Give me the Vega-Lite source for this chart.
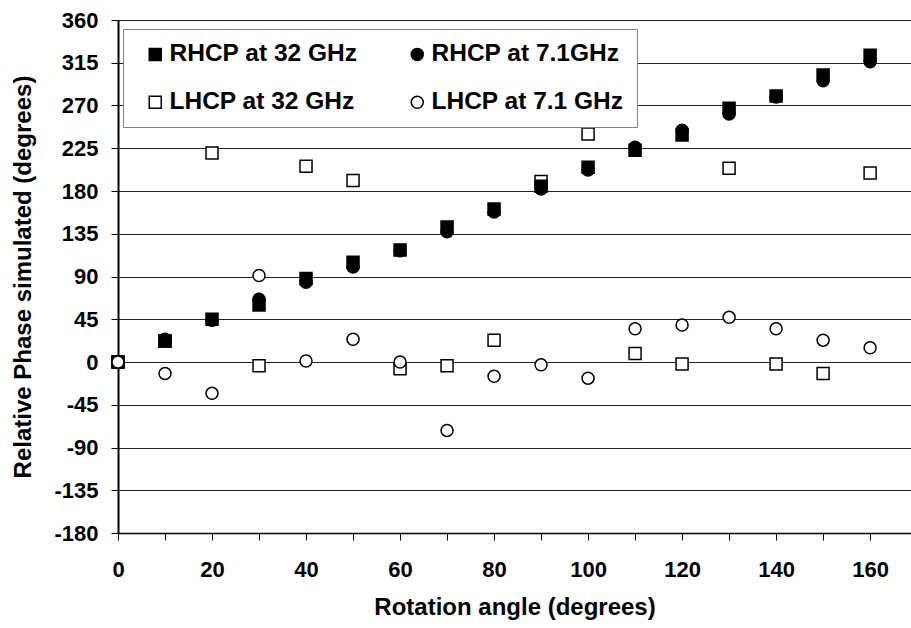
{
  "$schema": "https://vega.github.io/schema/vega-lite/v6.json",
  "autosize": {"type": "none"},
  "padding": {"left": 118, "top": 20, "right": 0, "bottom": 95},
  "width": 793,
  "height": 513,
  "background": "white",
  "config": {
    "view": {"stroke": null},
    "font": "Liberation Sans",
    "axis": {
      "labelFont": "Liberation Sans",
      "labelFontWeight": "bold",
      "labelColor": "#000",
      "titleFont": "Liberation Sans",
      "titleFontWeight": "bold",
      "titleColor": "#000",
      "domainColor": "#000",
      "tickColor": "#000",
      "labelFlush": false,
      "labelOverlap": false
    },
    "legend": {
      "labelFont": "Liberation Sans",
      "labelFontWeight": "bold",
      "labelColor": "#000"
    }
  },
  "data": {
    "values": [
      {"angle": 0, "phase": 0, "series": "LHCP at 32 GHz"},
      {"angle": 10, "phase": 22, "series": "LHCP at 32 GHz"},
      {"angle": 20, "phase": 220, "series": "LHCP at 32 GHz"},
      {"angle": 30, "phase": -4, "series": "LHCP at 32 GHz"},
      {"angle": 40, "phase": 206, "series": "LHCP at 32 GHz"},
      {"angle": 50, "phase": 191, "series": "LHCP at 32 GHz"},
      {"angle": 60, "phase": -7, "series": "LHCP at 32 GHz"},
      {"angle": 70, "phase": -4, "series": "LHCP at 32 GHz"},
      {"angle": 80, "phase": 23, "series": "LHCP at 32 GHz"},
      {"angle": 90, "phase": 190, "series": "LHCP at 32 GHz"},
      {"angle": 100, "phase": 240, "series": "LHCP at 32 GHz"},
      {"angle": 110, "phase": 9, "series": "LHCP at 32 GHz"},
      {"angle": 120, "phase": -2, "series": "LHCP at 32 GHz"},
      {"angle": 130, "phase": 204, "series": "LHCP at 32 GHz"},
      {"angle": 140, "phase": -2, "series": "LHCP at 32 GHz"},
      {"angle": 150, "phase": -12, "series": "LHCP at 32 GHz"},
      {"angle": 160, "phase": 199, "series": "LHCP at 32 GHz"},
      {"angle": 0, "phase": 0, "series": "RHCP at 32 GHz"},
      {"angle": 10, "phase": 22, "series": "RHCP at 32 GHz"},
      {"angle": 20, "phase": 45, "series": "RHCP at 32 GHz"},
      {"angle": 30, "phase": 60, "series": "RHCP at 32 GHz"},
      {"angle": 40, "phase": 88, "series": "RHCP at 32 GHz"},
      {"angle": 50, "phase": 105, "series": "RHCP at 32 GHz"},
      {"angle": 60, "phase": 118, "series": "RHCP at 32 GHz"},
      {"angle": 70, "phase": 142, "series": "RHCP at 32 GHz"},
      {"angle": 80, "phase": 161, "series": "RHCP at 32 GHz"},
      {"angle": 90, "phase": 185, "series": "RHCP at 32 GHz"},
      {"angle": 100, "phase": 205, "series": "RHCP at 32 GHz"},
      {"angle": 110, "phase": 223, "series": "RHCP at 32 GHz"},
      {"angle": 120, "phase": 239, "series": "RHCP at 32 GHz"},
      {"angle": 130, "phase": 267, "series": "RHCP at 32 GHz"},
      {"angle": 140, "phase": 280, "series": "RHCP at 32 GHz"},
      {"angle": 150, "phase": 302, "series": "RHCP at 32 GHz"},
      {"angle": 160, "phase": 323, "series": "RHCP at 32 GHz"},
      {"angle": 0, "phase": 0, "series": "RHCP at 7.1GHz"},
      {"angle": 10, "phase": 24, "series": "RHCP at 7.1GHz"},
      {"angle": 20, "phase": 44, "series": "RHCP at 7.1GHz"},
      {"angle": 30, "phase": 66, "series": "RHCP at 7.1GHz"},
      {"angle": 40, "phase": 84, "series": "RHCP at 7.1GHz"},
      {"angle": 50, "phase": 100, "series": "RHCP at 7.1GHz"},
      {"angle": 60, "phase": 117, "series": "RHCP at 7.1GHz"},
      {"angle": 70, "phase": 137, "series": "RHCP at 7.1GHz"},
      {"angle": 80, "phase": 158, "series": "RHCP at 7.1GHz"},
      {"angle": 90, "phase": 182, "series": "RHCP at 7.1GHz"},
      {"angle": 100, "phase": 202, "series": "RHCP at 7.1GHz"},
      {"angle": 110, "phase": 226, "series": "RHCP at 7.1GHz"},
      {"angle": 120, "phase": 244, "series": "RHCP at 7.1GHz"},
      {"angle": 130, "phase": 261, "series": "RHCP at 7.1GHz"},
      {"angle": 140, "phase": 279, "series": "RHCP at 7.1GHz"},
      {"angle": 150, "phase": 296, "series": "RHCP at 7.1GHz"},
      {"angle": 160, "phase": 316, "series": "RHCP at 7.1GHz"},
      {"angle": 0, "phase": 0, "series": "LHCP at 7.1 GHz"},
      {"angle": 10, "phase": -12, "series": "LHCP at 7.1 GHz"},
      {"angle": 20, "phase": -33, "series": "LHCP at 7.1 GHz"},
      {"angle": 30, "phase": 91, "series": "LHCP at 7.1 GHz"},
      {"angle": 40, "phase": 1, "series": "LHCP at 7.1 GHz"},
      {"angle": 50, "phase": 24, "series": "LHCP at 7.1 GHz"},
      {"angle": 60, "phase": 0, "series": "LHCP at 7.1 GHz"},
      {"angle": 70, "phase": -72, "series": "LHCP at 7.1 GHz"},
      {"angle": 80, "phase": -15, "series": "LHCP at 7.1 GHz"},
      {"angle": 90, "phase": -3, "series": "LHCP at 7.1 GHz"},
      {"angle": 100, "phase": -17, "series": "LHCP at 7.1 GHz"},
      {"angle": 110, "phase": 35, "series": "LHCP at 7.1 GHz"},
      {"angle": 120, "phase": 39, "series": "LHCP at 7.1 GHz"},
      {"angle": 130, "phase": 47, "series": "LHCP at 7.1 GHz"},
      {"angle": 140, "phase": 35, "series": "LHCP at 7.1 GHz"},
      {"angle": 150, "phase": 23, "series": "LHCP at 7.1 GHz"},
      {"angle": 160, "phase": 15, "series": "LHCP at 7.1 GHz"}
    ]
  },
  "mark": {"type": "point", "filled": true, "stroke": "#000", "strokeWidth": 1.5, "opacity": 1},
  "encoding": {
    "x": {
      "field": "angle",
      "type": "quantitative",
      "scale": {"domain": [0, 168.7], "nice": false, "zero": false},
      "axis": {
        "title": "Rotation angle (degrees)",
        "titleFontSize": 24,
        "titlePadding": 15,
        "labelFontSize": 22,
        "labelPadding": 19,
        "values": [0, 10, 20, 30, 40, 50, 60, 70, 80, 90, 100, 110, 120, 130, 140, 150, 160],
        "labelExpr": "datum.value % 20 == 0 ? '' + datum.value : ''",
        "grid": false,
        "tickSize": 7,
        "tickWidth": 1,
        "domainWidth": 1.5
      }
    },
    "y": {
      "field": "phase",
      "type": "quantitative",
      "scale": {"domain": [-180, 360], "nice": false, "zero": false},
      "axis": {
        "title": "Relative Phase simulated (degrees)",
        "titleFontSize": 24,
        "titlePadding": 18,
        "labelFontSize": 22,
        "labelPadding": 13,
        "values": [-180, -135, -90, -45, 0, 45, 90, 135, 180, 225, 270, 315, 360],
        "labelExpr": "'' + datum.value",
        "grid": true,
        "gridColor": "#222",
        "gridWidth": 1,
        "tickSize": 7,
        "tickWidth": 1,
        "domainWidth": 2
      }
    },
    "shape": {
      "field": "series",
      "type": "nominal",
      "scale": {
        "domain": ["RHCP at 32 GHz", "LHCP at 32 GHz", "RHCP at 7.1GHz", "LHCP at 7.1 GHz"],
        "range": ["square", "square", "circle", "circle"]
      },
      "legend": {
        "title": null,
        "orient": "none",
        "legendX": 5,
        "legendY": 9,
        "columns": 2,
        "columnPadding": 40,
        "rowPadding": 23,
        "padding": 13,
        "symbolOffset": 7,
        "labelOffset": 2,
        "labelFontSize": 24.5,
        "labelLimit": 400,
        "strokeColor": "#808080",
        "fillColor": "#fff",
        "symbolStrokeColor": "#000",
        "symbolStrokeWidth": 1.5,
        "symbolOpacity": 1
      }
    },
    "fill": {
      "field": "series",
      "type": "nominal",
      "scale": {
        "domain": ["RHCP at 32 GHz", "LHCP at 32 GHz", "RHCP at 7.1GHz", "LHCP at 7.1 GHz"],
        "range": ["#000", "#fff", "#000", "#fff"]
      }
    },
    "size": {
      "field": "series",
      "type": "nominal",
      "scale": {
        "domain": ["RHCP at 32 GHz", "LHCP at 32 GHz", "RHCP at 7.1GHz", "LHCP at 7.1 GHz"],
        "range": [144, 144, 110, 110]
      }
    }
  }
}
